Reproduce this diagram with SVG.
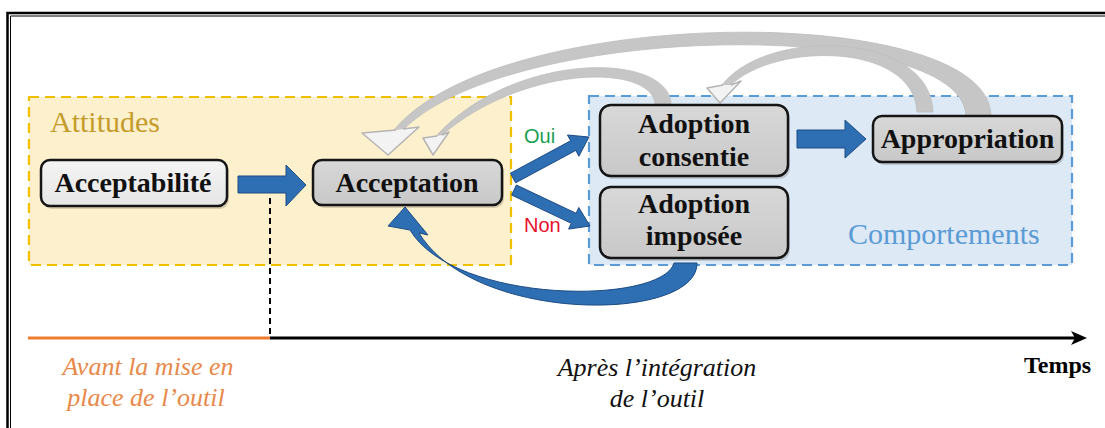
<svg xmlns="http://www.w3.org/2000/svg" width="1105" height="428" viewBox="0 0 1105 428">
  <style>
    .box { stroke: #151515; stroke-width: 2.5; }
    .shadow { fill: #000; opacity: 0.15; }
    .lbl { font-weight: bold; font-size: 28px; fill: #111; text-anchor: middle; }
    .grp { font-size: 30px; }
    .cap { font-style: italic; font-size: 26px; text-anchor: middle; }
    .yn { font-size: 20px; }
    .blue { fill: #2e6fb3; stroke: #1d4c85; stroke-width: 1; stroke-linejoin: round; }
    .gband { fill: #c6c6c6; stroke: #bdbdbd; stroke-width: 0.8; stroke-linejoin: round; }
    .ghead { fill: #f3f3f3; stroke: #b4b4b4; stroke-width: 1.5; stroke-linejoin: round; }
  </style>
  <defs>
    <linearGradient id="gLight" x1="0" y1="0" x2="0" y2="1">
      <stop offset="0" stop-color="#f4f4f4"/>
      <stop offset="1" stop-color="#e6e6e6"/>
    </linearGradient>
    <linearGradient id="gDark" x1="0" y1="0" x2="0" y2="1">
      <stop offset="0" stop-color="#d8d8d8"/>
      <stop offset="1" stop-color="#c8c8c8"/>
    </linearGradient>
  </defs>

  <rect x="0" y="0" width="1105" height="428" fill="#ffffff"/>

  <!-- frame -->
  <g id="frame" fill="none" stroke="#000">
    <path d="M7.5 440 V13 H1110" stroke-width="2.5"/>
    <path d="M10.5 440 V16 H1110" stroke-width="1"/>
  </g>

  <!-- groups -->
  <g id="attitudes">
    <rect x="29" y="97" width="482" height="168" fill="#fdf0cd" stroke="#f0c000" stroke-width="2.2" stroke-dasharray="10 6"/>
    <text class="grp" font-family="Liberation Serif, Times New Roman, serif" x="50" y="132" fill="#c49c2c">Attitudes</text>
  </g>
  <g id="comportements">
    <rect x="589" y="96" width="483" height="169" fill="#dde9f5" stroke="#5b9bd5" stroke-width="2.2" stroke-dasharray="10 6"/>
    <text class="grp" font-family="Liberation Serif, Times New Roman, serif" x="848" y="244" fill="#5b9bd5">Comportements</text>
  </g>

  <!-- timeline -->
  <g id="timeline">
    <line x1="28" y1="338" x2="270" y2="338" stroke="#ed7d31" stroke-width="3"/>
    <line x1="270" y1="338" x2="1076" y2="338" stroke="#000" stroke-width="3"/>
    <path d="M1087 338 L1071 331 L1075 338 L1071 345 Z" fill="#000"/>
    <line x1="270" y1="198" x2="270" y2="337" stroke="#000" stroke-width="2" stroke-dasharray="6 4"/>
    <text class="cap" font-family="Liberation Serif, Times New Roman, serif" x="148" y="375" fill="#e8894a">Avant la mise en</text>
    <text class="cap" font-family="Liberation Serif, Times New Roman, serif" x="146" y="406" fill="#e8894a">place de l’outil</text>
    <text class="cap" font-family="Liberation Serif, Times New Roman, serif" x="657" y="376" fill="#111">Après l’intégration</text>
    <text class="cap" font-family="Liberation Serif, Times New Roman, serif" x="657" y="407" fill="#111">de l’outil</text>
    <text font-family="Liberation Serif, Times New Roman, serif" x="1024" y="373" font-weight="bold" font-size="24" fill="#000">Temps</text>
  </g>

  <!-- connectors -->
  <g id="connectors">
    <path class="blue" d="M238 176 L286 176 L286 165 L306 185 L286 206 L286 193 L238 193 Z"/>
    <path class="blue" d="M797 130 L845 130 L845 120 L866 139 L845 158 L845 148 L797 148 Z"/>
    <path class="blue" d="M510.4 173.2 L570.6 140.8 L567.5 135 L589 137 L578.9 156.2 L575.8 150.4 L515.6 182.8 Z"/>
    <path class="blue" d="M516.4 185 L576.1 213.3 L578.8 207.5 L590 226 L568.6 229.1 L571.3 223.3 L511.6 195 Z"/>
    <text class="yn" font-family="Liberation Sans, Arial, sans-serif" x="524" y="143" fill="#1aa050">Oui</text>
    <text class="yn" font-family="Liberation Sans, Arial, sans-serif" x="524" y="232" fill="#e8102a">Non</text>

    <path class="blue" d="M697 263 C698 322, 475 325, 419 233 L428 235 L405 207 L388 226 L410 230 C455 305, 662 305, 674 263 Z"/>

    <path class="gband" d="M991 116 C990 2, 500 2, 394 130 L404 129 C515 20, 963 18, 966 116 Z"/>
    <path class="ghead" d="M396 130 L362 133 L388 155 L419 127 L403 129"/>
    <path class="gband" d="M671 104 C669 52, 515 50, 436 136 L442 135 C525 64, 652 64, 655 104 Z"/>
    <path class="ghead" d="M437 136 L423 138 L433 155 L449 132 L442 135"/>
    <path class="gband" d="M933 112 C931 32, 768 26, 722 85 L731 85 C775 42, 914 42, 917 112 Z"/>
    <path class="ghead" d="M723 85 L707 88 L720 103 L741 81 L731 85"/>
  </g>

  <!-- nodes -->
  <g id="acceptabilite">
    <rect class="shadow" x="43" y="163" width="186" height="46" rx="9"/>
    <rect class="box" x="41" y="160" width="186" height="46" rx="9" fill="url(#gLight)"/>
    <text class="lbl" font-family="Liberation Serif, Times New Roman, serif" x="133" y="192">Acceptabilité</text>
  </g>
  <g id="acceptation">
    <rect class="shadow" x="315" y="163" width="189" height="45" rx="9"/>
    <rect class="box" x="313" y="160" width="189" height="45" rx="9" fill="url(#gDark)"/>
    <text class="lbl" font-family="Liberation Serif, Times New Roman, serif" x="407" y="192">Acceptation</text>
  </g>
  <g id="adoption-consentie">
    <rect class="shadow" x="602" y="108" width="188" height="71" rx="11"/>
    <rect class="box" x="600" y="105" width="188" height="71" rx="11" fill="url(#gDark)"/>
    <text class="lbl" font-family="Liberation Serif, Times New Roman, serif" x="694" y="133">Adoption</text>
    <text class="lbl" font-family="Liberation Serif, Times New Roman, serif" x="694" y="166">consentie</text>
  </g>
  <g id="adoption-imposee">
    <rect class="shadow" x="602" y="190" width="188" height="71" rx="11"/>
    <rect class="box" x="600" y="187" width="188" height="71" rx="11" fill="url(#gDark)"/>
    <text class="lbl" font-family="Liberation Serif, Times New Roman, serif" x="694" y="213">Adoption</text>
    <text class="lbl" font-family="Liberation Serif, Times New Roman, serif" x="694" y="245">imposée</text>
  </g>
  <g id="appropriation">
    <rect class="shadow" x="875" y="119" width="189" height="46" rx="9"/>
    <rect class="box" x="873" y="116" width="189" height="46" rx="9" fill="url(#gDark)"/>
    <text class="lbl" font-family="Liberation Serif, Times New Roman, serif" x="967.5" y="148">Appropriation</text>
  </g>
</svg>
